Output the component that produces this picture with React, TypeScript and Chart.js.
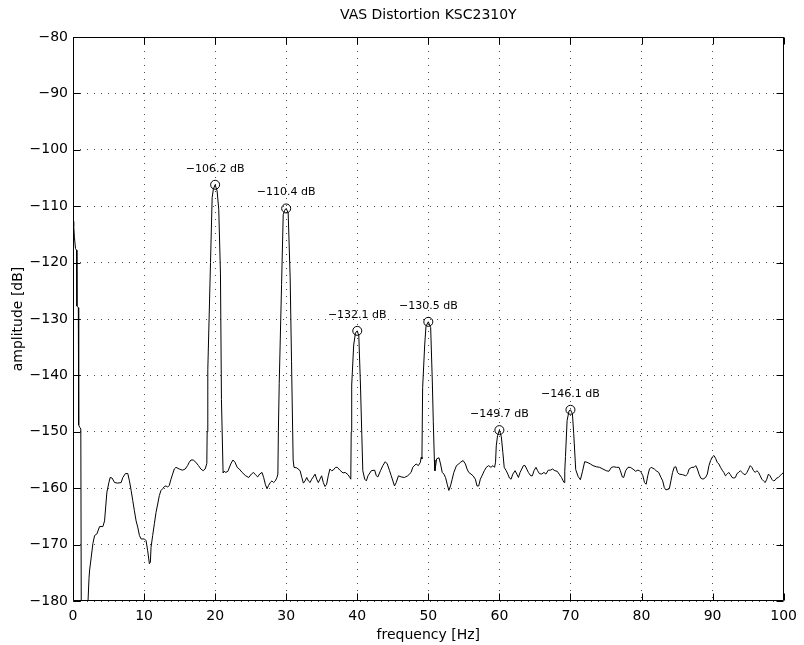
import React, { useEffect, useRef } from "react";
import { Chart, registerables } from "chart.js";

Chart.register(...registerables);

const FONT = '"DejaVu Sans", "Liberation Sans", sans-serif';

const chartTitle = "VAS Distortion KSC2310Y";
const xAxisLabel = "frequency [Hz]";
const yAxisLabel = "amplitude [dB]";

const xTickValues = [0, 10, 20, 30, 40, 50, 60, 70, 80, 90, 100];
const yTickValues = [-180, -170, -160, -150, -140, -130, -120, -110, -100, -90, -80];

const freqHz = [
  0, 0.1, 0.2, 0.35, 0.5, 0.55, 0.75, 0.8, 0.95, 1.1, 1.2, 1.9, 2.1, 2.25, 2.34, 2.57, 2.8, 3.04, 3.36, 3.74,
  4.21, 4.44, 4.77, 5.05, 5.23, 5.51, 5.84, 6.31, 6.78, 7.01, 7.38, 7.71, 7.94, 8.18, 8.41, 8.64, 8.88, 9.11,
  9.35, 9.58, 10.05, 10.28, 10.51, 10.75, 10.89, 10.98, 11.21, 11.45, 11.68, 11.92, 12.15, 12.38, 12.62, 12.85,
  13.08, 13.32, 13.55, 13.79, 14.02, 14.25, 14.49, 14.95, 15.42, 15.79, 16.12, 16.36, 16.59, 16.92, 17.29, 17.66,
  17.99, 18.32, 18.6, 18.83,
  18.88, 18.97, 19.35, 19.58, 19.75, 20.0, 20.28, 20.51, 20.75, 20.89, 21.12,
  21.26, 21.5, 21.8, 22.2, 22.5, 22.8, 23.1, 23.4, 23.8, 24.3, 24.73, 25.1, 25.4, 25.67, 25.99, 26.27, 26.6,
  26.83, 27.06, 27.3, 27.53, 27.76, 28.0, 28.23, 28.47, 28.7, 28.83,
  28.9, 29.02, 29.35, 29.58, 29.8, 30.0, 30.28, 30.56, 30.75, 30.98, 31.1,
  31.5, 31.96, 32.2, 32.42, 32.66, 32.89, 33.12, 33.36, 33.59, 33.82, 34.06, 34.29, 34.52, 34.75, 34.99, 35.22,
  35.46, 35.69, 35.92, 36.15, 36.39, 36.62, 36.95, 37.2, 37.55, 38.0, 38.3, 38.7, 38.95, 39.09,
  39.15, 39.22, 39.5, 39.74, 40.0, 40.22, 40.45, 40.64, 40.78,
  41.05, 41.28, 41.51, 41.98, 42.45, 42.68, 42.9, 43.27, 43.6, 43.94, 44.22, 44.55, 44.78, 45.24, 45.48, 45.8,
  46.17, 46.64, 47.1, 47.58, 47.81, 48.28, 48.6, 48.88, 49.0,
  49.1, 49.2, 49.49, 49.67, 50.0, 50.33, 50.56, 50.7, 50.85, 50.93,
  51.17, 51.5, 51.72, 51.96, 52.19, 52.42, 52.66, 52.89, 53.12, 53.36, 53.59, 53.96, 54.29, 54.52, 54.9, 55.22,
  55.45, 55.69, 56.01, 56.29, 56.62, 56.85, 57.09, 57.32, 57.55, 57.88, 58.16, 58.48, 58.81, 59.09, 59.32,
  59.46, 59.56, 59.74, 60.0, 60.28, 60.49, 60.68,
  60.96, 61.19, 61.42, 61.65, 61.89, 62.21, 62.45, 62.68, 62.91, 63.15, 63.38, 63.62, 63.85, 64.08, 64.41,
  64.64, 64.87, 65.15, 65.38, 65.62, 65.94, 66.27, 66.55, 66.88, 67.2, 67.48, 67.81, 68.14, 68.41, 68.74,
  68.97, 69.11,
  69.2, 69.3, 69.53, 69.8, 70.0, 70.28, 70.46, 70.74,
  71.07, 71.4, 71.68, 72.0, 72.33, 72.8, 73.17, 73.64, 74.1, 74.57, 75.04, 75.41, 75.77, 76.1, 76.47, 76.84,
  77.02, 77.3, 77.49, 77.77, 78.1, 78.42, 78.79, 79.16, 79.49, 79.72, 79.95, 80.19, 80.42, 80.65, 80.88, 81.12,
  81.35, 81.81, 82.05, 82.42, 82.74, 82.98, 83.21, 83.44, 83.91, 84.14, 84.37, 84.6, 84.84, 85.07, 85.3, 85.77,
  86.23, 86.47, 86.7, 87.07, 87.4, 87.63, 87.86, 88.09, 88.33, 88.65, 89.02, 89.26, 89.49, 89.72, 89.95, 90.19,
  90.42, 90.65, 90.88, 91.12, 91.35, 91.58, 91.81, 92.05, 92.28, 92.51, 92.74, 92.98, 93.21, 93.44, 93.67,
  93.91, 94.14, 94.37, 94.6, 94.84, 95.07, 95.3, 95.53, 95.77, 96.0, 96.23, 96.47, 96.7, 96.93, 97.16, 97.4,
  97.63, 97.86, 98.09, 98.33, 98.56, 98.79, 99.02, 99.26, 99.49, 99.72, 100,
];

const amplitudeDb = [
  -112.7, -113.5, -115.5, -117.5, -117.8, -127.7, -128, -148.8, -149.2, -149.5, -200, -200, -180.5, -176, -174.5,
  -172.2, -169.8, -168.4, -168.1, -166.8,
  -166.8, -165.8, -160.7, -159.0, -158.1, -158.2, -159.0, -159.1, -159.0, -158.1, -157.4, -157.4, -158.7, -160.4,
  -162.2, -164.0, -165.8, -166.9,
  -168.4, -169.0, -169.0, -169.3, -171.1, -173.4, -173.1, -170.5, -168.4, -166.3, -164.3, -162.8, -161.3,
  -160.4, -160.1, -159.7,
  -159.6, -159.8, -159.5, -158.4, -157.5, -156.6, -156.3, -156.6, -156.8, -156.6, -156.0, -155.4, -155.0,
  -155.0, -155.4, -156.0,
  -156.6, -156.9, -156.6, -155.6,
  -150, -139, -120, -108.5, -107, -106.2, -107.3, -110.6, -122, -144.3, -157.3,
  -157.0, -157.2, -157.0, -155.7, -155.0, -155.4, -156.3, -156.6, -157.2, -157.8, -158.1, -157.5, -157.2,
  -157.6, -158.0, -157.5, -157.2,
  -158.1, -159.3, -160.1, -159.5, -159.0, -158.7, -159.0, -158.7, -158.1, -157.5,
  -150, -141.4, -123.9, -111.5, -110.7, -110.4, -111.2, -122.7, -137.5, -155, -156.3,
  -156.4, -156.9, -158.1, -159.1, -158.7, -158.1, -158.7, -159.0, -158.4, -158.0, -157.5, -158.4, -159.0,
  -158.4, -157.8, -159.0,
  -159.7, -159.3, -157.8, -156.6, -156.9, -156.8, -156.3, -156.3, -156.8, -157.3, -157.2, -157.6, -158.1,
  -158.4,
  -150, -141.7, -134.6, -132.5, -132.1, -133.0, -141.7, -150.5, -156.9,
  -158.4, -158.7, -157.8, -156.9, -156.8, -157.8, -158.0, -156.9, -156.0, -155.3, -155.7, -156.9, -157.8,
  -159.6, -159.0, -157.8,
  -158.0, -158.1, -157.8, -157.2, -156.3, -155.7, -156.0, -155.4, -154.5,
  -154.8, -142.2, -134.6, -131.3, -130.5, -131.5, -141, -148.2, -155, -156.9,
  -154.8, -154.6, -155.7, -157.2, -157.5, -158.1, -159.3, -160.4, -159.6, -158.4, -157.2, -156.0, -155.7,
  -155.4, -155.1, -155.7,
  -156.6, -157.2, -157.5, -157.8, -158.4, -159.6, -159.6, -158.4, -157.8, -156.9, -156.3, -156.0, -156.3,
  -156.0, -156.3,
  -155.4, -152.5, -150.7, -149.7, -150.9, -153.7, -156.3,
  -156.9, -157.5, -158.2, -158.4, -157.5, -156.9, -157.5, -158.1, -157.2, -156.6, -156.0, -156.0, -156.6,
  -157.2, -157.8,
  -157.8, -156.9, -156.3, -156.9, -157.4, -157.5, -157.2, -157.5, -156.8, -156.8, -156.6, -156.9, -157.0,
  -157.5, -158.1,
  -158.7, -159.0,
  -157, -154.4, -148, -146.3, -146.1, -146.8, -150.3, -156.7,
  -157.9, -158.5, -157.1, -155.3, -155.4, -155.7, -156.0, -156.2, -156.3, -156.6, -156.9, -157.0, -156.3,
  -156.2, -156.3, -156.3,
  -156.9, -158.0, -158.1, -156.9, -156.3, -156.3, -156.6, -157.0, -156.8, -156.9, -157.2, -157.8, -159.0,
  -159.3, -157.8, -156.6,
  -156.3, -156.6, -156.9, -157.2, -158.1, -158.7, -159.9, -160.3, -160.1, -158.7, -157.2, -156.3, -156.2,
  -157.2, -157.5, -157.6,
  -157.8, -157.5, -156.6, -156.3, -156.3, -156.0, -156.6, -157.5, -158.2, -158.4, -158.1, -157.5, -156.0,
  -155.1, -154.5, -154.2,
  -154.7, -155.4, -155.7, -156.3, -156.8, -157.2, -157.8, -157.5, -157.2, -157.6, -158.1, -158.2, -158.1,
  -157.4, -157.2,
  -156.9, -157.2, -157.5, -157.6, -157.2, -156.6, -156.0, -156.3, -156.9, -157.2, -156.9, -157.2, -157.8,
  -158.4, -158.7, -159.0,
  -158.4, -157.5, -157.8, -158.4, -158.7, -158.6, -158.2, -158.1, -157.8, -157.5, -157.2,
];

const peakFreqs = [20, 30, 40, 50, 60, 70];
const peakDb = [-106.2, -110.4, -132.1, -130.5, -149.7, -146.1];

const fmt = (v: number) => "\u2212" + Math.abs(v).toFixed(1) + " dB";
const fmtTick = (v: number) => (v < 0 ? "\u2212" + Math.abs(v) : String(v));

const framePlugin = {
  id: "matlabFrame",
  afterDatasetsDraw(chart: any) {
    const { ctx, chartArea } = chart;
    const { left, right, top, bottom } = chartArea;
    const xs = chart.scales.x;
    const ys = chart.scales.y;
    const tl = 7;
    ctx.save();
    ctx.strokeStyle = "#000";
    ctx.lineWidth = 1;
    ctx.setLineDash([]);
    ctx.beginPath();
    const L = Math.round(left) + 0.5;
    const R = Math.round(right) - 0.5;
    const T = Math.round(top) + 0.5;
    const B = Math.round(bottom) - 0.5;
    ctx.rect(L, T, R - L, B - T);
    xTickValues.forEach((v) => {
      const px = Math.round(xs.getPixelForValue(v)) + 0.5;
      ctx.moveTo(px, B);
      ctx.lineTo(px, B - tl);
      ctx.moveTo(px, T);
      ctx.lineTo(px, T + tl);
    });
    yTickValues.forEach((v) => {
      const py = Math.round(ys.getPixelForValue(v)) + 0.5;
      ctx.moveTo(L, py);
      ctx.lineTo(L + tl, py);
      ctx.moveTo(R, py);
      ctx.lineTo(R - tl, py);
    });
    ctx.stroke();

    // peak labels
    ctx.fillStyle = "#000";
    ctx.font = `11px ${FONT}`;
    ctx.textAlign = "center";
    ctx.textBaseline = "middle";
    peakFreqs.forEach((f, i) => {
      const px = xs.getPixelForValue(f);
      const py = ys.getPixelForValue(peakDb[i]);
      ctx.fillText(fmt(peakDb[i]), px, py - 16);
    });

    // title
    ctx.font = `14px ${FONT}`;
    ctx.fillText(chartTitle, (left + right) / 2, 15);
    ctx.restore();
  },
};

export default function App() {
  const canvasRef = useRef<HTMLCanvasElement | null>(null);

  useEffect(() => {
    const canvas = canvasRef.current;
    if (!canvas) return;
    const lineData = freqHz.map((f, i) => ({ x: f, y: amplitudeDb[i] }));
    const peakData = peakFreqs.map((f, i) => ({ x: f, y: peakDb[i] }));
    const chart = new Chart(canvas, {
      type: "line",
      data: {
        datasets: [
          {
            data: lineData,
            borderColor: "#000",
            borderWidth: 1,
            pointRadius: 0,
            tension: 0,
            fill: false,
          },
          {
            data: peakData,
            showLine: false,
            borderColor: "#000",
            borderWidth: 1,
            backgroundColor: "rgba(0,0,0,0)",
            pointRadius: 4.5,
            pointStyle: "circle",
          },
        ],
      },
      options: {
        responsive: false,
        animation: false,
        events: [],
        layout: { padding: { top: 37, right: 15, left: 0, bottom: 0 } },
        plugins: {
          legend: { display: false },
          tooltip: { enabled: false },
          title: { display: false },
        },
        scales: {
          x: {
            type: "linear",
            min: 0,
            max: 100,
            afterFit: (s: any) => {
              s.height = 44;
            },
            afterBuildTicks: (s: any) => {
              s.ticks = xTickValues.map((v) => ({ value: v }));
            },
            ticks: {
              color: "#000",
              font: { family: FONT, size: 14 },
              padding: 7,
              maxRotation: 0,
              autoSkip: false,
              callback: (v: any) => fmtTick(Number(v)),
            },
            grid: {
              color: "rgba(0,0,0,0.7)",
              lineWidth: 1,
              drawTicks: false,
            },
            border: { display: false, dash: [1, 6] },
            title: {
              display: true,
              text: xAxisLabel,
              color: "#000",
              font: { family: FONT, size: 14 },
              padding: { top: 0, bottom: 1 },
            },
          },
          y: {
            type: "linear",
            min: -180,
            max: -80,
            afterFit: (s: any) => {
              s.width = 73;
            },
            afterBuildTicks: (s: any) => {
              s.ticks = yTickValues.map((v) => ({ value: v }));
            },
            ticks: {
              color: "#000",
              font: { family: FONT, size: 14 },
              padding: 5,
              autoSkip: false,
              callback: (v: any) => fmtTick(Number(v)),
            },
            grid: {
              color: "rgba(0,0,0,0.7)",
              lineWidth: 1,
              drawTicks: false,
            },
            border: { display: false, dash: [1, 6] },
            title: {
              display: true,
              text: yAxisLabel,
              color: "#000",
              font: { family: FONT, size: 14 },
              padding: { top: 10, bottom: 0 },
            },
          },
        },
      },
      plugins: [framePlugin],
    });
    return () => chart.destroy();
  }, []);

  return (
    <div style={{ position: "absolute", left: 0, top: 0, width: 804, height: 645, background: "#fff" }}>
      <canvas ref={canvasRef} width={804} height={645} style={{ display: "block" }} />
    </div>
  );
}
